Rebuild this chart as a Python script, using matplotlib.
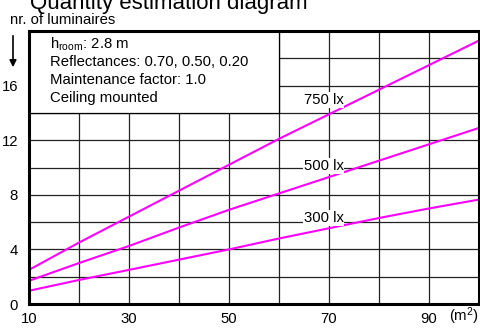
import matplotlib
matplotlib.use("Agg")
import matplotlib.pyplot as plt
from matplotlib.patches import Rectangle

plt.rcParams['font.family'] = ['Liberation Sans', 'DejaVu Sans']
plt.rcParams['mathtext.fontset'] = 'custom'
plt.rcParams['mathtext.rm'] = 'Liberation Sans'
plt.rcParams['mathtext.it'] = 'Liberation Sans'

area = [10, 20, 30, 40, 50, 60, 70, 80, 90, 100]
lux750 = [2.5, 4.5, 6.4, 8.3, 10.2, 12.1, 13.9, 15.7, 17.5, 19.3]
lux500 = [1.7, 3.0, 4.25, 5.6, 6.9, 8.1, 9.3, 10.5, 11.7, 12.9]
lux300 = [0.97, 1.76, 2.5, 3.25, 4.0, 4.8, 5.55, 6.3, 7.0, 7.65]
series_labels = ["750 lx", "500 lx", "300 lx"]
label_pos = [(68.9, 14.95), (68.9, 10.1), (68.9, 6.3)]
xticks = [10, 30, 50, 70, 90]
yticks = [0, 4, 8, 12, 16]
info_lines = [r"h$_{\mathregular{room}}$: 2.8 m", "Reflectances: 0.70, 0.50, 0.20",
              "Maintenance factor: 1.0", "Ceiling mounted"]

FS = 10.7

fig = plt.figure(figsize=(4.81, 3.29), dpi=100)
ax = fig.add_axes([29/481, 25/329, 450/481, 273/329])
ax.set_xlim(10, 100)
ax.set_ylim(0, 20)

for xv in range(20, 100, 10):
    ax.axvline(xv, color='#222222', lw=0.9, zorder=1)
for yv in range(2, 20, 2):
    ax.axhline(yv, color='#222222', lw=0.9, zorder=1)

for s in [lux750, lux500, lux300]:
    ax.plot(area, s, color='#ff00ff', lw=1.5, zorder=3)

ax.add_patch(Rectangle((10, 14), 50, 6, facecolor='white', edgecolor='black',
                       lw=0.9, zorder=4))
for i, t in enumerate(info_lines):
    ax.text(14.2, 19.0 - i * 1.3, t, fontsize=FS, va='center', ha='left', zorder=5)

for lab, (xv, yv) in zip(series_labels, label_pos):
    ax.text(xv, yv, lab, fontsize=FS, ha='center', va='center', zorder=5,
            bbox=dict(facecolor='white', edgecolor='none', pad=0.5))

for sp in ax.spines.values():
    sp.set_linewidth(2.2)
    sp.set_zorder(6)

ax.set_xticks(xticks)
ax.set_yticks(yticks)
ax.tick_params(length=0, labelsize=FS, pad=6)
ax.tick_params(axis='y', pad=8)

fig.text(30/481, 1 - 9/329, "Quantity estimation diagram", fontsize=16, va='baseline', ha='left')
fig.text(10/481, 1 - 24/329, "nr. of luminaires", fontsize=FS, va='baseline', ha='left')
ax.annotate('', xy=(13/481, 1 - 70/329), xytext=(13/481, 1 - 33/329),
            xycoords='figure fraction', textcoords='figure fraction',
            arrowprops=dict(arrowstyle='-|>', color='black', lw=1.2, mutation_scale=10))
fig.text(464/481, 1 - 316/329, "(m$^{\\mathregular{2}}$)", fontsize=FS, va='center', ha='center')

fig.savefig("out.png", dpi=100)
